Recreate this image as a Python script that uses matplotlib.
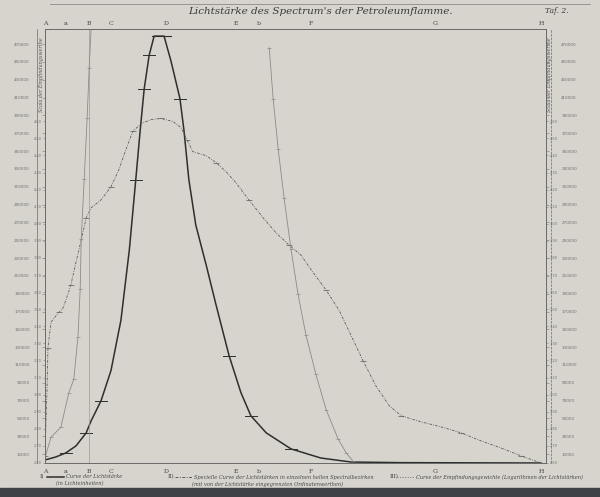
import matplotlib.pyplot as plt
from matplotlib.lines import Line2D
from matplotlib.patches import Rectangle

# Fraunhofer lines along the spectrum (scale units, A = 0, H = 100)
line_names = ['A', 'a', 'B', 'C', 'D', 'E', 'b', 'F', 'G', 'H']
line_pos = [0, 4.2, 8.9, 13.3, 24.4, 38.5, 43.1, 53.6, 78.6, 100]

# I) Curve der Lichtstärke (Lichteinheiten)
c1_x = [0, 2.2, 4.2, 6.25, 8.3, 9.3, 11.3, 13.3, 15.3, 17.0, 18.3, 19.2, 20.0, 21.0,
        22.0, 24.0, 25.4, 27.2, 28.0, 29.0, 30.4, 32.5, 34.5, 37.1, 39.5, 41.5, 44.6,
        49.6, 55.6, 61.7, 71.8, 100]
c1_y = [3400, 6800, 11300, 19200, 33800, 47300, 69900, 103700, 160000, 239000, 318000,
        374000, 420000, 457600, 479000, 479000, 451000, 409000, 374000, 318000, 267000,
        222000, 177000, 120600, 78900, 53000, 33800, 15800, 5600, 1100, 400, 0]
# x positions of the small cross bars on curve I
c1_bars = [4.2, 8.3, 11.3, 18.3, 20.0, 21.0, 27.2, 37.1, 41.5, 49.6]
c1_peak = [21.5, 25.5]

# II) Specielle Curve der Lichtstärken in einzelnen hellen Spectralbezirken
c2_x = [0, 0.2, 0.4, 0.6, 1.2, 1.8, 2.8, 3.6, 4.2, 5.2, 6.25, 7.3, 8.3, 9.3, 11.3, 13.3,
        14.9, 16.3, 17.7, 19.4, 21.4, 23.4, 25.8, 27.4, 28.6, 29.8, 32.5, 34.5, 36.5,
        38.5, 41.1, 44.0, 46.6, 49.2, 51.6, 54.0, 56.7, 59.3, 61.7, 64.1, 66.7, 69.4,
        71.8, 75.8, 79.8, 83.9, 87.9, 91.9, 96.0, 100]
c2_y = [7900, 47300, 81100, 129600, 157800, 162300, 169000, 173600, 182600, 199500,
        225400, 250200, 275000, 286300, 295300, 310000, 329100, 351600, 372000, 381000,
        385400, 386600, 383200, 376400, 362900, 349400, 344900, 337000, 326900, 314400,
        295300, 275000, 258100, 244600, 233300, 214100, 193800, 171300, 143100, 114900,
        86700, 64200, 53000, 46200, 40600, 33800, 24800, 16900, 7900, 0]

# III) Curve der Empfindungsgewichte (Logarithmen der Lichtstärken)
c3a_x = [0, 1.2, 3.2, 4.8, 5.8, 6.65, 7.1, 7.3, 7.9, 8.5, 8.9, 9.3]
c3a_y = [2.63, 2.75, 2.81, 3.01, 3.09, 3.34, 3.62, 3.91, 4.26, 4.62, 4.91, 5.15]
c3b_x = [45.2, 46.0, 47.0, 48.2, 49.6, 51.0, 52.6, 54.6, 56.7, 59.1, 60.7, 62.1]
c3b_y = [5.03, 4.73, 4.44, 4.15, 3.85, 3.59, 3.35, 3.12, 2.91, 2.74, 2.66, 2.61]

outer_ticks = list(range(10000, 480000, 20000))
inner_ticks = [round(2.6 + 0.1 * i, 1) for i in range(21)]

paper = '#d6d4cc'
ink = '#2e2e2e'
ink2 = '#5a5a5a'

fig = plt.figure(figsize=(6, 4.97), dpi=100, facecolor=paper)
W, H = 600, 497
L, R, T, B = 45, 546, 29, 463
ax = fig.add_axes([L / W, 1 - B / H, (R - L) / W, (B - T) / H], facecolor='none')
ax.set_xlim(0, 101)
ax.set_ylim(0, 487000)

ax.plot(c1_x, c1_y, color=ink, lw=1.1)
for bx in c1_bars:
    by = c1_y[c1_x.index(bx)]
    ax.plot([bx - 1.2, bx + 1.2], [by, by], color=ink, lw=0.7)
ax.plot(c1_peak, [max(c1_y)] * 2, color=ink, lw=0.8)

ax.plot(c2_x, c2_y, color=ink2, lw=0.6, ls=(0, (3, 1.5, 1, 1.5)))
ax.plot(c2_x[::3], c2_y[::3], ls='none', marker='_', ms=5, mew=0.5, color=ink2)

ax2 = ax.twinx()
ax2.set_ylim(2.6, 5.14)
ax2.plot(c3a_x, c3a_y, color='#8a8a8a', lw=0.6, marker='_', ms=3, mew=0.5)
ax2.plot(c3b_x, c3b_y, color='#8a8a8a', lw=0.6, marker='_', ms=3, mew=0.5)

# vertical line at B
ax.axvline(line_pos[2], color='#9a9a9a', lw=0.5)

for a in (ax, ax2):
    for s in a.spines.values():
        s.set_color('#6a6a6a')
        s.set_linewidth(0.6)

ax.set_yticks(outer_ticks)
ax.set_yticklabels([str(v) for v in outer_ticks])
ax.tick_params(axis='y', which='both', left=True, right=True, labelleft=True,
               labelright=True, length=2, width=0.4, color='#777777', labelsize=3,
               labelcolor='#6f6f6f', pad=9)
ax2.set_yticks(inner_ticks)
ax2.set_yticklabels(['%.2f' % v for v in inner_ticks])
ax2.tick_params(axis='y', left=True, right=True, labelleft=True, labelright=True,
                length=1.5, width=0.4, color='#777777', labelsize=2.5,
                labelcolor='#6f6f6f', pad=1)

ax.set_xticks(line_pos)
ax.set_xticklabels(line_names, fontfamily='DejaVu Serif', fontsize=4.5, color='#444444')
ax.tick_params(axis='x', length=0, pad=4, top=False)
top = ax.secondary_xaxis('top')
top.set_xticks(line_pos)
top.set_xticklabels(line_names, fontfamily='DejaVu Serif', fontsize=4.5, color='#444444')
top.tick_params(length=0, pad=2)
top.spines['top'].set_visible(False)

# scale strips
for xp, ls in [(37, '-'), (551, '--')]:
    fig.add_artist(Line2D([xp / W, xp / W], [1 - B / H, 1 - T / H], color='#6a6a6a',
                          lw=0.5, ls=ls))
fig.add_artist(Line2D([50 / W, 590 / W], [1 - 4 / H, 1 - 4 / H], color='#8a8a8a', lw=0.6))

for xp in (41, 549):
    fig.text(xp / W, 1 - 75 / H, 'Scala der Empfindungswerthe', rotation=90,
             ha='center', va='center', fontsize=3.5, fontstyle='italic',
             fontfamily='DejaVu Serif', color='#555555')

fig.text(320 / W, 1 - 11 / H, 'Lichtstärke des Spectrum\'s der Petroleumflamme.',
         ha='center', va='center', fontsize=7.5, fontstyle='italic',
         fontfamily='DejaVu Serif', color='#3a3a3a')
fig.text(557 / W, 1 - 11 / H, 'Taf. 2.', ha='center', va='center', fontsize=5.5,
         fontstyle='italic', fontfamily='DejaVu Serif', color='#3a3a3a')

# legend
leg = [
    (40, 'I)', '-', 1.1, ink, 'Curve der Lichtstärke', '(in Lichteinheiten)', 80),
    (168, 'II)', (0, (3, 1.5, 1, 1.5)), 0.7, ink2,
     'Specielle Curve der Lichtstärken in einzelnen hellen Spectralbezirken',
     '(mit von der Lichtstärke eingegrenzten Ordinatenwerthen)', 268),
    (390, 'III)', ':', 0.7, '#707070',
     'Curve der Empfindungsgewichte (Logarithmen der Lichtstärken)', '', 0),
]
for x0, num, ls, lw, col, t1, t2, x2 in leg:
    fig.text(x0 / W, 1 - 477 / H, num, fontsize=4, fontfamily='DejaVu Serif',
             color='#444444', va='center')
    fig.add_artist(Line2D([(x0 + 7) / W, (x0 + 24) / W], [1 - 477 / H] * 2,
                          color=col, lw=lw, ls=ls))
    fig.text((x0 + 26) / W, 1 - 477 / H, t1, fontsize=3.6, fontstyle='italic',
             fontfamily='DejaVu Serif', color='#444444', va='center')
    if t2:
        fig.text(x2 / W, 1 - 484 / H, t2, fontsize=3.6, fontstyle='italic',
                 fontfamily='DejaVu Serif', color='#444444', va='center', ha='center')

fig.add_artist(Rectangle((0, 0), 1, 9 / H, transform=fig.transFigure,
                         color='#3f4247', zorder=5))
fig.add_artist(Line2D([0, 1], [9 / H, 9 / H], color='#9a9a9a', lw=0.6))

fig.savefig('out.png', dpi=100, facecolor=paper)
